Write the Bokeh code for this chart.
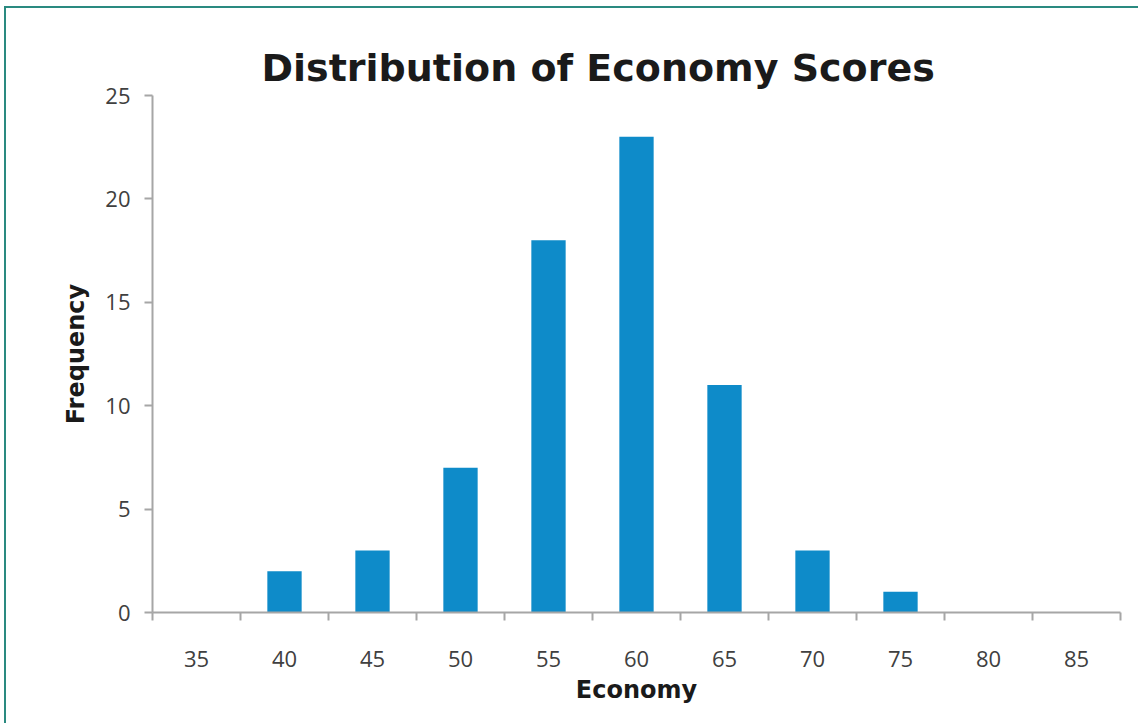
from bokeh.plotting import figure
from bokeh.models import FixedTicker, Range1d
from bokeh.embed import file_html
from bokeh.resources import INLINE

# Histogram bins (score bin labels) and their frequencies
bins = [35, 40, 45, 50, 55, 60, 65, 70, 75, 80, 85]
frequency = [0, 2, 3, 7, 18, 23, 11, 3, 1, 0, 0]
y_ticks = [0, 5, 10, 15, 20, 25]

BAR_COLOR = "#0e8bc9"
BORDER_COLOR = "#2a8a80"
AXIS_COLOR = "#a6a6a6"
TEXT_FONT = "Open Sans"
BOLD_FONT = "DejaVu Sans"

p = figure(
    width=1134, height=717,
    x_range=Range1d(32.5, 87.5), y_range=Range1d(0, 25),
    output_backend="svg", toolbar_location=None,
    min_border_left=146, min_border_right=20,
    min_border_top=87, min_border_bottom=113,
    title="Distribution of Economy Scores",
)
p.margin = (6, 0, 0, 4)
p.styles = {"border-top": f"2px solid {BORDER_COLOR}",
            "border-left": f"2px solid {BORDER_COLOR}"}

p.vbar(x=bins, top=frequency, width=5 * 0.39, bottom=0,
       fill_color=BAR_COLOR, line_color=None)

# Title
p.title.text_font = BOLD_FONT
p.title.text_font_style = "bold"
p.title.text_font_size = "38px"
p.title.text_color = "#1a1a1a"
p.title.align = "left"
p.title.offset = 109
p.title.standoff = 11

p.grid.visible = False
p.outline_line_color = None
p.background_fill_color = "white"
p.border_fill_color = "white"

# X axis: labels at bin centres, tick marks at bin edges
xa = p.xaxis[0]
xa.ticker = FixedTicker(ticks=bins,
                        minor_ticks=[b - 2.5 for b in bins] + [bins[-1] + 2.5])
xa.major_tick_line_color = None
xa.minor_tick_line_color = AXIS_COLOR
xa.minor_tick_line_width = 2
xa.minor_tick_out = 8
xa.minor_tick_in = 0
xa.axis_line_color = AXIS_COLOR
xa.axis_line_width = 2
xa.major_label_text_font = TEXT_FONT
xa.major_label_text_font_size = "22px"
xa.major_label_text_color = "#404040"
xa.major_label_standoff = 30
xa.axis_label = "Economy"
xa.axis_label_text_font = BOLD_FONT
xa.axis_label_text_font_style = "bold"
xa.axis_label_text_font_size = "24px"
xa.axis_label_text_color = "#1a1a1a"
xa.axis_label_standoff = 6

ya = p.yaxis[0]
ya.ticker = FixedTicker(ticks=y_ticks)
ya.minor_tick_line_color = None
ya.major_tick_line_color = AXIS_COLOR
ya.major_tick_line_width = 2
ya.major_tick_out = 8
ya.major_tick_in = 0
ya.axis_line_color = AXIS_COLOR
ya.axis_line_width = 2
ya.major_label_text_font = TEXT_FONT
ya.major_label_text_font_size = "22px"
ya.major_label_text_color = "#404040"
ya.major_label_standoff = 14
ya.axis_label = "Frequency"
ya.axis_label_text_font = BOLD_FONT
ya.axis_label_text_font_style = "bold"
ya.axis_label_text_font_size = "24px"
ya.axis_label_text_color = "#1a1a1a"
ya.axis_label_standoff = 12

open("out.html", "w").write(file_html(p, INLINE))
